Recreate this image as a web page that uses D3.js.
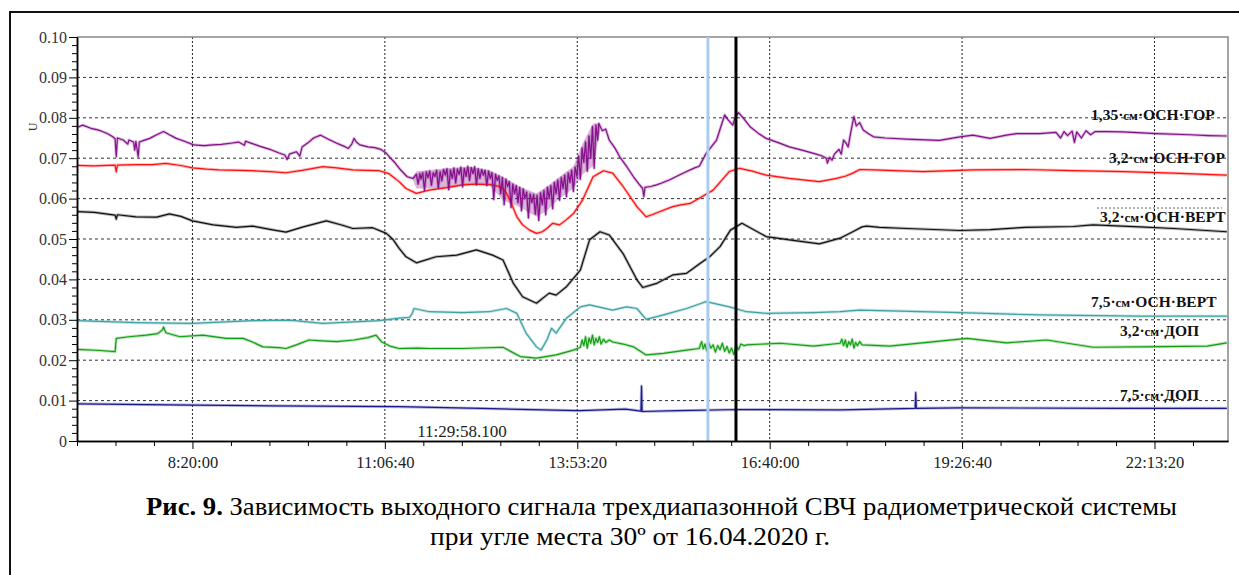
<!DOCTYPE html>
<html>
<head>
<meta charset="utf-8">
<script src="https://cdn.jsdelivr.net/npm/d3@7"></script>
<style>
  body { margin: 0; background: #fff; }
  svg { display: block; }
  text { font-family: "Liberation Serif", "Times New Roman", serif; }
</style>
</head>
<body>
<div id="chart"></div>
<script>
// time in minutes since midnight, value in volts
var s135gor = [[400,0.0776],[405,0.0782],[412,0.0774],[418,0.0770],[422,0.0766],[427,0.0760],[431,0.0753],[433,0.0748],[434,0.0704],[435,0.0750],[440,0.0745],[444,0.0735],[445,0.0745],[449,0.0740],[450,0.0720],[451,0.0742],[453,0.0704],[454,0.0740],[458,0.0744],[463,0.0749],[469,0.0758],[475,0.0766],[480,0.0758],[486,0.0749],[493,0.0742],[501,0.0733],[510,0.0731],[518,0.0733],[525,0.0734],[533,0.0737],[540,0.0740],[545,0.0732],[546,0.0742],[550,0.0738],[558,0.0730],[567,0.0722],[575,0.0713],[580,0.0708],[582,0.0697],[584,0.0710],[590,0.0716],[593,0.0705],[595,0.0728],[600,0.0738],[605,0.0750],[611,0.0757],[617,0.0748],[625,0.0737],[631,0.0730],[635,0.0724],[638,0.0735],[640,0.0749],[642,0.0740],[645,0.0733],[652,0.0728],[658,0.0726],[663,0.0722],[668,0.0712],[671,0.0702],[675,0.0690],[680,0.0672],[686,0.0654],[691,0.0650],
  [694,0.0660],[695.5,0.0636],[697,0.0662],[698,0.0648],[699.5,0.0664],[701,0.0620],[702.5,0.0666],[704,0.0652],[705.5,0.0668],[707,0.0633],[708.5,0.0664],[710,0.0655],[711.5,0.0670],[713,0.0626],[714.5,0.0667],[716,0.0644],[717.5,0.0672],[719,0.0658],[720.5,0.0674],[722,0.0622],[723.5,0.0671],[725,0.0650],[726.5,0.0676],[728,0.0639],[729.5,0.0673],[731,0.0660],[732.5,0.0678],[734,0.0629],[735.5,0.0675],[737,0.0655],[738.5,0.0680],[740,0.0645],[741.5,0.0677],[743,0.0662],[744.5,0.0679],[746,0.0634],[747.5,0.0674],[749,0.0650],[750.5,0.0672],[752,0.0658],[753.5,0.0670],[755,0.0632],[756.5,0.0668],[758,0.0650],[759.5,0.0664],[761,0.0598],[762.5,0.0660],[764,0.0645],[765.5,0.0656],[767,0.0612],[768.5,0.0652],[770,0.0585],[771.5,0.0648],[773,0.0630],[774.5,0.0642],[776,0.0578],[777.5,0.0636],[779,0.0612],[780.5,0.0632],[782,0.0590],[783.5,0.0628],[785,0.0570],[786.5,0.0624],[788,0.0600],[789.5,0.0616],[791,0.0552],[792.5,0.0612],[794,0.0590],[795.5,0.0610],[797,0.0562],[798.5,0.0608],[800,0.0546],[801.5,0.0614],[803,0.0585],[804.5,0.0620],[806,0.0560],[807.5,0.0628],[809,0.0600],[810.5,0.0632],[812,0.0575],[813.5,0.0640],[815,0.0612],[816.5,0.0646],[818,0.0596],[819.5,0.0652],[821,0.0625],[822.5,0.0658],[824,0.0605],[825.5,0.0664],[827,0.0640],[828.5,0.0670],[830,0.0618],[831.5,0.0678],[833,0.0655],[834.5,0.0705],[836,0.0648],[837.5,0.0725],[839,0.0690],[840.5,0.0740],[842,0.0668],[843.5,0.0755],[845,0.0700],[846.5,0.0778],[848,0.0675],[849.5,0.0782],[851,0.0745],[852,0.0786],
  [855,0.0768],[858,0.0772],[861,0.0745],[866,0.0725],[870,0.0704],[876,0.0680],[882,0.0654],[887,0.0635],[890,0.0625],[891,0.0605],[892,0.0628],[897,0.0630],[902,0.0634],[906,0.0638],[913,0.0646],[920,0.0656],[928,0.0667],[935,0.0676],[939,0.0680],[945,0.0712],[954,0.0745],[961,0.0807],[964,0.0795],[968,0.0782],[970,0.0800],[973,0.0813],[977,0.0800],[983,0.0778],[990,0.0762],[997,0.0749],[1008,0.0738],[1017,0.0728],[1028,0.0720],[1038,0.0712],[1045,0.0706],[1049,0.0700],[1050,0.0688],[1052,0.0702],[1054,0.0695],[1056,0.0710],[1058,0.0716],[1060,0.0722],[1062,0.0710],[1064,0.0745],[1066,0.0738],[1068,0.0728],[1070,0.0760],[1072,0.0790],[1073,0.0803],[1075,0.0780],[1078,0.0788],[1081,0.0770],[1086,0.0760],[1090,0.0753],[1100,0.0750],[1119,0.0747],[1147,0.0744],[1165,0.0753],[1176,0.0757],[1191,0.0749],[1205,0.0757],[1214,0.0761],[1234,0.0761],[1248,0.0764],[1252,0.0750],[1255,0.0766],[1258,0.0756],[1262,0.0767],[1264,0.0739],[1266,0.0765],[1270,0.0750],[1274,0.0768],[1278,0.0758],[1282,0.0766],[1292,0.0766],[1306,0.0765],[1335,0.0761],[1364,0.0758],[1380,0.0756],[1396,0.0755]];

// spread of the dense spikes on the 1,35 cm trace: [time, upper, lower]
var s135gorSpread = [[691,0.0655,0.0645],[694,0.0668,0.0625],[720,0.0675,0.0625],[740,0.0679,0.0635],[757,0.0671,0.0634],[769,0.0654,0.0595],[783,0.0630,0.0580],[798,0.0613,0.0555],[807,0.0630,0.0570],[818,0.0654,0.0600],[830,0.0680,0.0625],[838,0.0737,0.0660],[847,0.0786,0.0680],[853,0.0786,0.0765]];

var s32gor = [[400,0.0682],[415,0.0681],[433,0.0683],[434,0.0666],[435,0.0683],[450,0.0684],[465,0.0684],[477,0.0687],[490,0.0682],[500,0.0676],[512,0.0673],[523,0.0671],[540,0.0670],[552,0.0669],[567,0.0667],[581,0.0664],[595,0.0670],[613,0.0679],[625,0.0676],[639,0.0671],[650,0.0670],[662,0.0669],[670,0.0662],[679,0.0642],[685,0.0625],[694,0.0613],[705,0.0621],[720,0.0627],[734,0.0634],[746,0.0636],[760,0.0634],[768,0.0628],[772,0.0613],[776,0.0590],[781,0.0555],[786,0.0535],[792,0.0522],[798,0.0514],[803,0.0518],[807,0.0526],[812,0.0539],[815,0.0537],[818,0.0535],[824,0.0548],[830,0.0563],[838,0.0597],[847,0.0654],[856,0.0669],[864,0.0663],[873,0.0630],[885,0.0580],[893,0.0555],[898,0.0560],[905,0.0568],[916,0.0580],[922,0.0584],[931,0.0588],[939,0.0601],[951,0.0621],[965,0.0667],[974,0.0675],[985,0.0668],[997,0.0658],[1017,0.0650],[1043,0.0642],[1058,0.0650],[1066,0.0656],[1072,0.0663],[1078,0.0672],[1090,0.0671],[1133,0.0667],[1176,0.0671],[1220,0.0672],[1263,0.0669],[1306,0.0667],[1350,0.0663],[1396,0.0658]];

var s32vert = [[400,0.0568],[415,0.0566],[433,0.0559],[434,0.0549],[435,0.0560],[451,0.0555],[469,0.0554],[480,0.0562],[490,0.0556],[500,0.0545],[518,0.0535],[538,0.0529],[552,0.0532],[567,0.0524],[581,0.0517],[596,0.0530],[616,0.0545],[630,0.0534],[639,0.0526],[656,0.0528],[668,0.0514],[674,0.0498],[679,0.0477],[685,0.0456],[694,0.0441],[711,0.0456],[729,0.0460],[746,0.0473],[760,0.0460],[769,0.0448],[778,0.0390],[786,0.0357],[798,0.0341],[809,0.0366],[815,0.0361],[824,0.0382],[836,0.0423],[844,0.0498],[853,0.0518],[861,0.0510],[873,0.0464],[885,0.0399],[890,0.0380],[902,0.0390],[916,0.0411],[928,0.0415],[939,0.0438],[948,0.0456],[957,0.0481],[966,0.0522],[976,0.0539],[997,0.0506],[1017,0.0498],[1043,0.0488],[1061,0.0502],[1072,0.0518],[1080,0.0530],[1084,0.0532],[1095,0.0529],[1119,0.0526],[1165,0.0521],[1191,0.0523],[1222,0.0529],[1263,0.0531],[1280,0.0535],[1321,0.0530],[1350,0.0526],[1396,0.0518]];

var s75vert = [[400,0.0298],[451,0.0293],[500,0.0291],[552,0.0298],[584,0.0299],[613,0.0291],[662,0.0298],[679,0.0304],[688,0.0306],[690,0.0314],[692,0.0328],[705,0.0320],[734,0.0318],[757,0.0320],[772,0.0328],[781,0.0316],[789,0.0267],[798,0.0233],[802,0.0225],[807,0.0250],[811,0.0279],[815,0.0267],[824,0.0304],[836,0.0332],[844,0.0337],[864,0.0324],[876,0.0332],[885,0.0328],[893,0.0301],[908,0.0312],[928,0.0328],[939,0.0339],[945,0.0345],[965,0.0332],[980,0.0320],[997,0.0316],[1038,0.0318],[1061,0.0320],[1078,0.0324],[1165,0.0318],[1234,0.0312],[1321,0.0309],[1396,0.0309]];

var s32dop = [[400,0.0227],[420,0.0224],[433,0.0221],[434,0.0254],[445,0.0258],[460,0.0262],[470,0.0266],[474,0.0275],[475,0.0282],[477,0.0268],[489,0.0258],[509,0.0262],[529,0.0254],[544,0.0254],[552,0.0245],[561,0.0233],[575,0.0231],[581,0.0229],[590,0.0238],[601,0.0250],[612,0.0248],[625,0.0246],[640,0.0250],[652,0.0256],[659,0.0262],[664,0.0245],[671,0.0235],[679,0.0229],[695,0.0230],[705,0.0229],[734,0.0229],[769,0.0232],[784,0.0209],[798,0.0205],[815,0.0213],[830,0.0225],
  [836,0.0232],[837.5,0.0250],[839,0.0236],[840.5,0.0258],[842,0.0230],[843.5,0.0255],[845,0.0242],[846.5,0.0262],[848,0.0238],[849.5,0.0254],[851,0.0244],[852.5,0.0258],[854,0.0240],[856,0.0252],[858,0.0244],[861,0.0250],[864,0.0245],[873,0.0240],[882,0.0233],[893,0.0213],[908,0.0217],[928,0.0225],
  [939,0.0229],[941,0.0246],[942.5,0.0228],[944,0.0240],[945.5,0.0223],[947,0.0244],[949,0.0230],[951,0.0238],[953,0.0220],[955,0.0236],[957,0.0226],[959,0.0242],[961,0.0222],[963,0.0234],[965,0.0218],[967,0.0230],[969,0.0214],[971,0.0236],[973,0.0226],[975,0.0240],[978,0.0236],[980,0.0238],[1009,0.0242],[1038,0.0235],
  [1061,0.0242],[1062.5,0.0252],[1064,0.0236],[1065.5,0.0250],[1067,0.0232],[1068.5,0.0246],[1070,0.0238],[1071.5,0.0252],[1073,0.0230],[1074.5,0.0244],[1076,0.0236],[1078,0.0246],[1080,0.0238],[1104,0.0235],[1171,0.0254],[1205,0.0243],[1240,0.0250],[1280,0.0232],[1321,0.0233],[1379,0.0235],[1396,0.0243]];

var s75dop = [[400,0.0092],[500,0.0089],[567,0.0087],[679,0.0085],[760,0.0080],[835,0.0075],[875,0.0079],[888.5,0.0074],[889,0.0136],[889.5,0.0073],[920,0.0075],[975,0.0078],[1061,0.0077],[1126,0.0081],[1126.5,0.0120],[1127,0.0081],[1165,0.0082],[1300,0.0081],[1396,0.0081]];

var seriesLabels = ["1,35", "3,2", "3,2", "7,5", "3,2", "7,5"];
var seriesModes = ["ОСН·ГОР", "ОСН·ГОР", "ОСН·ВЕРТ", "ОСН·ВЕРТ", "ДОП", "ДОП"];
var cursorTimes = [946.5, 970.8];
var cursorReadout = "11:29:58.100";
var yAxisTitle = "U";
var captionBold = "Рис. 9.";
var captionLine1 = " Зависимость выходного сигнала трехдиапазонной СВЧ радиометрической системы";
var captionLine2 = "при угле места 30º от 16.04.2020 г.";

var width = 1239;
var height = 575;
var plotLeft = 77, plotRight = 1228, plotTop = 37, plotBottom = 441;

var series = [s135gor, s32gor, s32vert, s75vert, s32dop, s75dop];
var colors = ["#86108c", "#ff1010", "#111111", "#3ea3a6", "#14a014", "#1a1a8e"];
var labelPos = [[1091,120],[1109,163],[1100,222],[1091,307],[1120,336],[1120,400]];

function fmtTime(sec){
  var h = Math.floor(sec / 3600);
  var m = Math.floor((sec % 3600) / 60);
  var s = Math.round(sec % 60);
  return h + ":" + String(m).padStart(2, "0") + ":" + String(s).padStart(2, "0");
}

var x = d3.scaleLinear().domain([400, 1397]).range([plotLeft, plotRight]);
var y = d3.scaleLinear().domain([0, 0.10]).range([plotBottom, plotTop]);

var svg = d3.select("#chart").append("svg")
    .attr("width", width)
    .attr("height", height);

// page frame
svg.append("path")
    .attr("d", `M10,${height} L10,12 L${width},12`)
    .attr("fill", "none")
    .attr("stroke", "#111")
    .attr("stroke-width", 2);

var majorY = d3.range(0, 11).map(i => i / 100);
var minorY = d3.range(0, 51).filter(i => i % 5 != 0).map(i => i * 0.002);
var majorX = d3.range(30000, 84000, 10000).map(s => s / 60);
var minorX = d3.range(24000, 84000, 2000).filter(s => s % 10000 != 0).map(s => s / 60);

// grid
svg.append("g").selectAll("line")
  .data(majorY.filter(v => v > 0 && v < 0.1))
  .join("line")
    .attr("x1", plotLeft).attr("x2", plotRight)
    .attr("y1", d => y(d)).attr("y2", d => y(d))
    .attr("stroke", "#333")
    .attr("stroke-width", 1)
    .attr("stroke-dasharray", "3,3");

svg.append("g").selectAll("line")
  .data(majorX)
  .join("line")
    .attr("x1", d => x(d)).attr("x2", d => x(d))
    .attr("y1", plotTop).attr("y2", plotBottom)
    .attr("stroke", "#222")
    .attr("stroke-width", 1)
    .attr("stroke-dasharray", "2,2");

// border
svg.append("path")
    .attr("d", `M${plotLeft},${plotTop} L${plotRight},${plotTop} L${plotRight},${plotBottom}`)
    .attr("fill", "none")
    .attr("stroke", "#888")
    .attr("stroke-width", 1.5);

// leftover dotted frame above one label
svg.append("line")
    .attr("x1", 1097).attr("x2", 1222)
    .attr("y1", 208).attr("y2", 208)
    .attr("stroke", "#666")
    .attr("stroke-dasharray", "2,2");

var line = d3.line()
    .x(d => x(d[0]))
    .y(d => y(d[1]));

var spread = d3.area()
    .x(d => x(d[0]))
    .y0(d => y(d[2]))
    .y1(d => y(d[1]));

svg.append("path")
    .datum(s135gorSpread)
    .attr("fill", colors[0])
    .attr("fill-opacity", 0.3)
    .attr("d", spread);

var order = [5, 4, 3, 2, 1, 0];
// soft halo first, then the trace itself
svg.append("g")
    .attr("fill", "none")
    .attr("stroke-width", 3)
    .attr("stroke-opacity", 0.3)
    .attr("stroke-linejoin", "round")
  .selectAll("path")
  .data(order)
  .join("path")
    .attr("stroke", i => colors[i])
    .attr("d", i => line(series[i]));
svg.append("g")
    .attr("fill", "none")
    .attr("stroke-width", 1.2)
    .attr("stroke-linejoin", "round")
  .selectAll("path")
  .data(order)
  .join("path")
    .attr("stroke", i => colors[i])
    .attr("d", i => line(series[i]));

// cursors
svg.append("line")
    .attr("x1", x(cursorTimes[0])).attr("x2", x(cursorTimes[0]))
    .attr("y1", plotTop).attr("y2", plotBottom)
    .attr("stroke", "#a9cdf2")
    .attr("stroke-width", 3);
svg.append("line")
    .attr("x1", x(cursorTimes[1])).attr("x2", x(cursorTimes[1]))
    .attr("y1", plotTop).attr("y2", plotBottom)
    .attr("stroke", "#000")
    .attr("stroke-width", 3);

// axes
var axL = svg.append("g").attr("transform", `translate(${plotLeft},0)`)
    .call(d3.axisLeft(y).tickValues(majorY).tickSize(8).tickSizeOuter(0)
      .tickFormat(d => d == 0 ? "0" : d.toFixed(2)));
svg.append("g").attr("transform", `translate(${plotLeft},0)`)
    .call(d3.axisLeft(y).tickValues(minorY).tickSize(5).tickSizeOuter(0).tickFormat(""));
var axB = svg.append("g").attr("transform", `translate(0,${plotBottom})`)
    .call(d3.axisBottom(x).tickValues(majorX).tickSize(8).tickSizeOuter(0)
      .tickFormat(d => fmtTime(d * 60)));
svg.append("g").attr("transform", `translate(0,${plotBottom})`)
    .call(d3.axisBottom(x).tickValues(minorX).tickSize(5).tickSizeOuter(0).tickFormat(""));

svg.selectAll(".domain").attr("stroke", "#000").attr("stroke-width", 1.5);
svg.selectAll(".tick line").attr("stroke", "#000");
axL.selectAll("text")
    .attr("font-size", 16).attr("fill", "#333").attr("x", -10);
axB.selectAll("text")
    .attr("font-size", 16.5).attr("fill", "#222").attr("dy", "0.95em");

// y title
svg.append("text")
    .attr("transform", "translate(37,127) rotate(-90)")
    .attr("text-anchor", "middle")
    .attr("font-size", 12)
    .attr("fill", "#333")
    .text(yAxisTitle);

// cursor readout
svg.append("text")
    .attr("x", 462).attr("y", 437)
    .attr("text-anchor", "middle")
    .attr("font-size", 17)
    .attr("fill", "#222")
    .text(cursorReadout);

// series labels
seriesLabels.forEach((lab, i) => {
  var t = svg.append("text")
      .attr("x", labelPos[i][0]).attr("y", labelPos[i][1])
      .attr("font-size", 15.5)
      .attr("font-weight", "bold")
      .attr("fill", "#111");
  t.append("tspan").text(lab + "·");
  t.append("tspan").attr("font-size", 13).text("см");
  t.append("tspan").text("·" + seriesModes[i]);
});

// caption
var c1 = svg.append("text")
    .attr("x", 146).attr("y", 515)
    .attr("font-size", 25)
    .attr("textLength", 1031)
    .attr("lengthAdjust", "spacingAndGlyphs")
    .attr("fill", "#000");
c1.append("tspan").attr("font-weight", "bold").text(captionBold);
c1.append("tspan").text(captionLine1);

svg.append("text")
    .attr("x", 430).attr("y", 545)
    .attr("font-size", 25)
    .attr("textLength", 400)
    .attr("lengthAdjust", "spacingAndGlyphs")
    .attr("fill", "#000")
    .text(captionLine2);
</script>
</body>
</html>
